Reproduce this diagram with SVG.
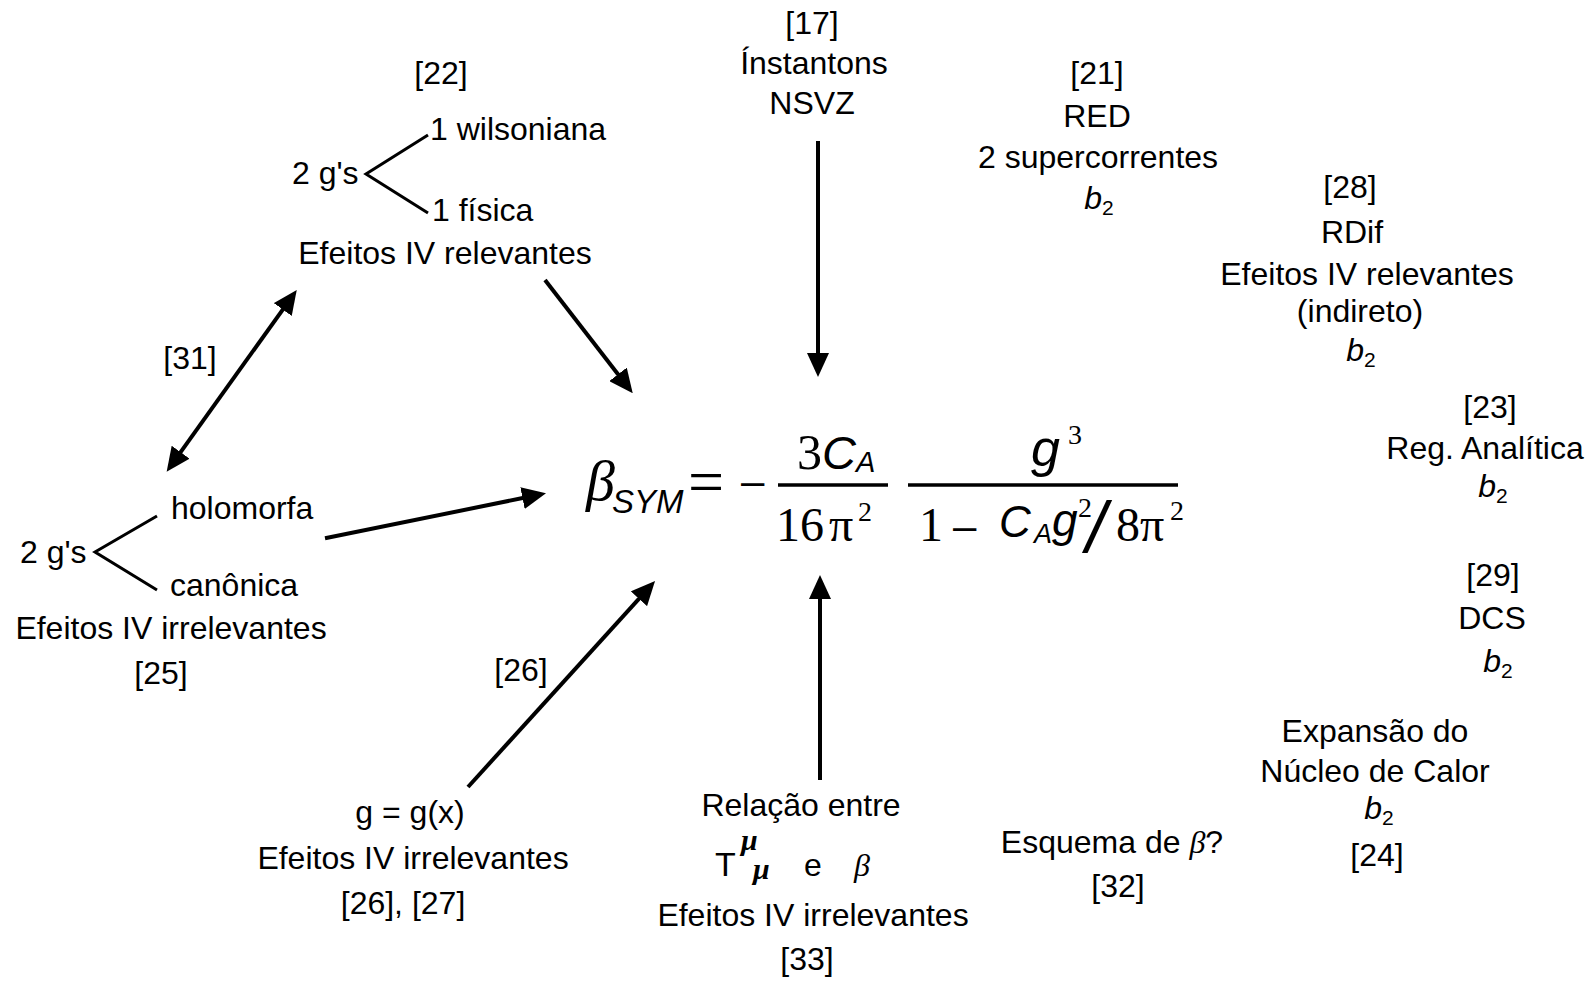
<svg xmlns="http://www.w3.org/2000/svg" width="1592" height="981" viewBox="0 0 1592 981">
<style>
svg{font-family:"Liberation Sans",Arial,sans-serif;font-size:32px}
text{fill:#000}
.m{text-anchor:middle}
.it{font-style:italic}
.sf{font-family:"Liberation Serif","Times New Roman",serif}
.br{fill:none;stroke:#000;stroke-width:3}
.ar{fill:none;stroke:#000;stroke-width:4}
</style>
<defs>
<marker id="ah" viewBox="0 0 24 22" markerWidth="24" markerHeight="22" refX="4" refY="11" orient="auto-start-reverse" markerUnits="userSpaceOnUse">
<path d="M0,0 L24,11 L0,22 z" fill="#000"/>
</marker>
</defs>
<rect width="1592" height="981" fill="#fff"/>

<g id="connectors">
<line class="ar" x1="818" y1="141" x2="818" y2="357" marker-end="url(#ah)"/>
<line class="ar" x1="820" y1="780" x2="820" y2="595" marker-end="url(#ah)"/>
<line class="ar" x1="468" y1="787" x2="641.6" y2="595.8" marker-end="url(#ah)"/>
<line class="ar" x1="545" y1="280" x2="620.5" y2="377.5" marker-end="url(#ah)"/>
<line class="ar" x1="325" y1="538.3" x2="526.4" y2="497.3" marker-end="url(#ah)"/>
<line class="ar" x1="178.3" y1="455.4" x2="285.1" y2="306.3" marker-start="url(#ah)" marker-end="url(#ah)"/>
<text class="m" x="190" y="369">[31]</text>
<text class="m" x="521" y="681">[26]</text>
</g>

<g id="n22">
<text class="m" x="441" y="84">[22]</text>
<polyline class="br" points="428,135 366,174 428,213"/>
<text x="430" y="140">1 wilsoniana</text>
<text x="292" y="184">2 g's</text>
<text x="432" y="221">1 física</text>
<text class="m" x="445" y="264">Efeitos IV relevantes</text>
</g>

<g id="n17">
<text class="m" x="812" y="34">[17]</text>
<text class="m" x="814" y="74">Ínstantons</text>
<text class="m" x="812" y="114">NSVZ</text>
</g>

<g id="n21">
<text class="m" x="1097" y="84">[21]</text>
<text class="m" x="1097" y="127">RED</text>
<text class="m" x="1098" y="168">2 supercorrentes</text>
<text class="m" x="1099" y="209"><tspan class="it">b</tspan><tspan font-size="21" dy="6">2</tspan></text>
</g>

<g id="n28">
<text class="m" x="1350" y="198">[28]</text>
<text class="m" x="1352" y="243">RDif</text>
<text class="m" x="1367" y="285">Efeitos IV relevantes</text>
<text class="m" x="1360" y="322">(indireto)</text>
<text class="m" x="1361" y="361"><tspan class="it">b</tspan><tspan font-size="21" dy="6">2</tspan></text>
</g>

<g id="n23">
<text class="m" x="1490" y="418">[23]</text>
<text class="m" x="1485" y="459">Reg. Analítica</text>
<text class="m" x="1493" y="497"><tspan class="it">b</tspan><tspan font-size="21" dy="6">2</tspan></text>
</g>

<g id="n29">
<text class="m" x="1493" y="586">[29]</text>
<text class="m" x="1492" y="629">DCS</text>
<text class="m" x="1498" y="672"><tspan class="it">b</tspan><tspan font-size="21" dy="6">2</tspan></text>
</g>

<g id="n24">
<text class="m" x="1375" y="742">Expansão do</text>
<text class="m" x="1375" y="782">Núcleo de Calor</text>
<text class="m" x="1379" y="819"><tspan class="it">b</tspan><tspan font-size="21" dy="6">2</tspan></text>
<text class="m" x="1377" y="866">[24]</text>
</g>

<g id="n32">
<text class="m" x="1112" y="853">Esquema de <tspan class="sf it">β</tspan>?</text>
<text class="m" x="1118" y="897">[32]</text>
</g>

<g id="n33">
<text class="m" x="801" y="816">Relação entre</text>
<text font-size="34" x="715" y="876">T</text>
<text class="sf it" font-weight="bold" font-size="30" x="741" y="850">μ</text>
<text class="sf it" font-weight="bold" font-size="30" x="753" y="879">μ</text>
<text x="804" y="876">e</text>
<text class="sf it" x="854" y="876">β</text>
<text class="m" x="813" y="926">Efeitos IV irrelevantes</text>
<text class="m" x="807" y="970">[33]</text>
</g>

<g id="ngx">
<text class="m" x="410" y="823">g = g(x)</text>
<text class="m" x="413" y="869">Efeitos IV irrelevantes</text>
<text class="m" x="403" y="914">[26], [27]</text>
</g>

<g id="n25">
<text x="20" y="563">2 g's</text>
<polyline class="br" points="157,516 95,552 157,590"/>
<text x="171" y="519">holomorfa</text>
<text x="170" y="596">canônica</text>
<text class="m" x="171" y="639">Efeitos IV irrelevantes</text>
<text class="m" x="161" y="684">[25]</text>
</g>

<g id="formula">
<text class="sf it" font-size="58" x="586" y="500">β</text>
<text class="it" font-size="33" x="612" y="513">SYM</text>
<text class="sf" font-size="64" x="688" y="503">=</text>
<text font-size="42" x="741" y="495">–</text>
<line x1="778" y1="485" x2="888" y2="485" stroke="#000" stroke-width="3.5"/>
<text class="sf" font-size="50" x="797" y="469">3</text>
<text class="it" font-size="47" x="822" y="469">C</text>
<text class="it" font-size="29" x="856" y="472">A</text>
<text class="sf" font-size="48" x="776" y="541">16</text>
<text class="sf" font-size="48" x="829" y="541">π</text>
<text class="sf" font-size="28" x="858" y="521">2</text>
<line x1="908" y1="485" x2="1178" y2="485" stroke="#000" stroke-width="3.5"/>
<text class="it" font-size="52" x="1031" y="466">g</text>
<text class="sf" font-size="28" x="1068" y="444">3</text>
<text class="sf" font-size="48" x="919" y="541">1</text>
<text font-size="42" x="953" y="540">–</text>
<text class="it" font-size="44" x="999" y="537">C</text>
<text class="it" font-size="27" x="1034" y="543">A</text>
<text class="it" font-size="46" x="1052" y="536">g</text>
<text class="sf" font-size="28" x="1078" y="517">2</text>
<text class="it" font-size="72" x="1086" y="553">/</text>
<text class="sf" font-size="48" x="1116" y="541">8</text>
<text class="sf" font-size="48" x="1140" y="541">π</text>
<text class="sf" font-size="28" x="1170" y="520">2</text>
</g>
</svg>
